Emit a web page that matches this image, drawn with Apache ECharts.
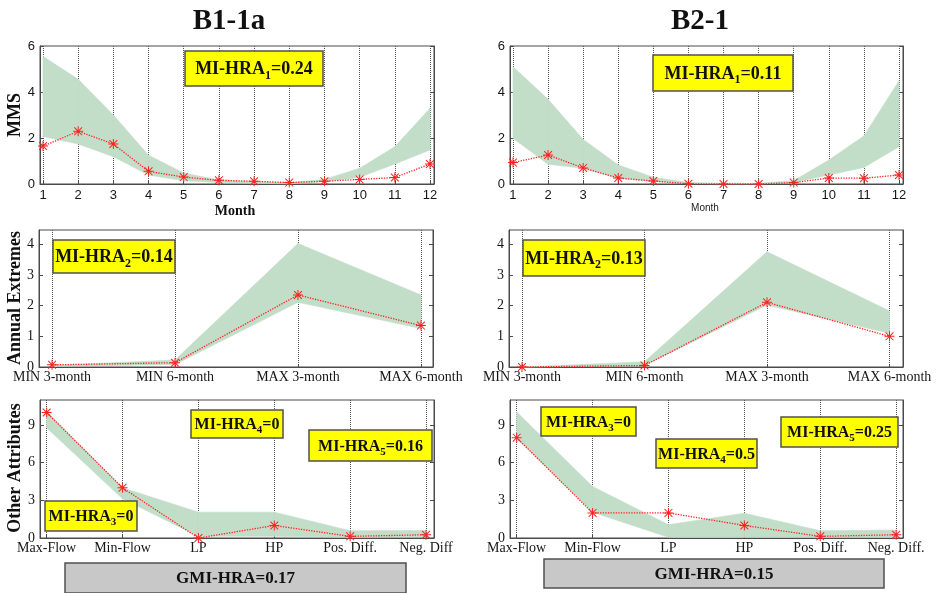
<!DOCTYPE html>
<html><head><meta charset="utf-8">
<script src="https://cdn.jsdelivr.net/npm/echarts@6/dist/echarts.min.js"></script>
<style>html,body{margin:0;padding:0;background:#fff}#c{width:937px;height:593px}</style>
</head><body><div id="c"></div>
<script>
// ---------------- DATA ----------------
const siteNames = ['B1-1a', 'B2-1'];
const monthLabels = ['1','2','3','4','5','6','7','8','9','10','11','12'];
const extremesLabels = ['MIN 3-month','MIN 6-month','MAX 3-month','MAX 6-month'];
const otherLabelsB11a = ['Max-Flow','Min-Flow','LP','HP','Pos. Diff.','Neg. Diff'];
const otherLabelsB21 = ['Max-Flow','Min-Flow','LP','HP','Pos. Diff.','Neg. Diff.'];
const mmsTicks = [0, 2, 4, 6];
const extremesTicks = [0, 1, 2, 3, 4];
const otherTicks = [0, 3, 6, 9];

// B1-1a
const mmsUpperB11a = [5.55, 4.55, 3.0, 1.25, 0.48, 0.17, 0.10, 0.06, 0.20, 0.68, 1.62, 3.29];
const mmsLowerB11a = [2.06, 1.74, 1.19, 0.39, 0.14, 0.06, 0.03, 0.01, 0.10, 0.29, 0.87, 1.48];
const mmsObsB11a   = [1.65, 2.29, 1.74, 0.55, 0.30, 0.16, 0.12, 0.06, 0.12, 0.20, 0.28, 0.87];
const extUpperB11a = [0.05, 0.23, 4.03, 2.35];
const extLowerB11a = [0.02, 0.08, 2.11, 1.26];
const extObsB11a   = [0.07, 0.14, 2.35, 1.35];
const othUpperB11a = [10.1, 4.0, 2.06, 2.06, 0.58, 0.60];
const othLowerB11a = [8.78, 3.12, 0.13, 0.13, 0.05, 0.10];
const othObsB11a   = [10.0, 4.0, 0.0, 1.0, 0.13, 0.26];
const miHraB11a = ['0.24', '0.14', '0', '0', '0.16'];
const gmiHraB11a = '0.17';

// B2-1
const mmsUpperB21 = [5.10, 3.68, 1.94, 0.83, 0.29, 0.06, 0.03, 0.03, 0.14, 1.04, 2.09, 4.49];
const mmsLowerB21 = [1.99, 0.86, 0.68, 0.25, 0.10, 0.03, 0.01, 0.01, 0.06, 0.39, 0.72, 1.62];
const mmsObsB21   = [0.93, 1.26, 0.70, 0.26, 0.13, 0.01, 0.0, 0.0, 0.06, 0.26, 0.25, 0.39];
const extUpperB21 = [0.0, 0.17, 3.76, 1.83];
const extLowerB21 = [0.0, 0.05, 2.02, 1.10];
const extObsB21   = [0.0, 0.05, 2.11, 1.0];
const othUpperB21 = [10.05, 4.1, 1.06, 1.98, 0.58, 0.63];
const othLowerB21 = [7.94, 2.06, 0.05, 0.05, 0.05, 0.05];
const othObsB21   = [8.0, 2.0, 2.0, 1.0, 0.13, 0.26];
const miHraB21 = ['0.11', '0.13', '0', '0.5', '0.25'];
const gmiHraB21 = '0.15';

// ---------------- STYLE / LAYOUT ----------------
const SERIF = '"Liberation Serif","Times New Roman",serif';
const SANS = '"Liberation Sans",Arial,sans-serif';
const FRAME = '#4a4a4a';
const BAND = '#c2dec8';
const RED = '#ff2020';
const STAR = 'path://M0 9H20V11H0Z M9 0H11V20H9Z M2.9 1.5L18.5 17.1L17.1 18.5L1.5 2.9Z M17.1 1.5L18.5 2.9L2.9 18.5L1.5 17.1Z';

const panels = [
  {grid:{left:40, top:46, width:394, height:138}, xMin:0.915, xMax:12.114, yMax:6, yTicks:mmsTicks, labels:monthLabels,
   upper:mmsUpperB11a, lower:mmsLowerB11a, obs:mmsObsB11a, font:SANS, size:13, xMargin:5},
  {grid:{left:510, top:46, width:393, height:138}, xMin:0.915, xMax:12.114, yMax:6, yTicks:mmsTicks, labels:monthLabels,
   upper:mmsUpperB21, lower:mmsLowerB21, obs:mmsObsB21, font:SANS, size:13, xMargin:5},
  {grid:{left:39, top:230, width:394, height:137}, xMin:0.894, xMax:4.098, yMax:4.47, yTicks:extremesTicks, labels:extremesLabels,
   upper:extUpperB11a, lower:extLowerB11a, obs:extObsB11a, font:SERIF, size:14, xMargin:3},
  {grid:{left:509, top:230, width:394, height:137}, xMin:0.894, xMax:4.11, yMax:4.47, yTicks:extremesTicks, labels:extremesLabels,
   upper:extUpperB21, lower:extLowerB21, obs:extObsB21, font:SERIF, size:14, xMargin:3},
  {grid:{left:40, top:400, width:394, height:138}, xMin:0.912, xMax:6.105, yMax:11, yTicks:otherTicks, labels:otherLabelsB11a,
   upper:othUpperB11a, lower:othLowerB11a, obs:othObsB11a, font:SERIF, size:14, xMargin:3},
  {grid:{left:510, top:400, width:393, height:138}, xMin:0.912, xMax:6.09, yMax:11, yTicks:otherTicks, labels:otherLabelsB21,
   upper:othUpperB21, lower:othLowerB21, obs:othObsB21, font:SERIF, size:14, xMargin:3}
];

const grid = [], xAxis = [], yAxis = [], series = [];
panels.forEach((p, i) => {
  grid.push(Object.assign({show:true, borderColor:FRAME, borderWidth:1, containLabel:false}, p.grid));
  const pos = p.labels.map((_, k) => k + 1);
  xAxis.push({
    gridIndex:i, type:'value', min:p.xMin, max:p.xMax,
    axisLine:{show:true, onZero:false, lineStyle:{color:FRAME}},
    axisTick:{show:true, inside:true, length:3, customValues:pos, lineStyle:{color:FRAME}},
    axisLabel:{customValues:pos, formatter:(v) => p.labels[Math.round(v) - 1], fontFamily:p.font, fontSize:p.size, color:'#161616', margin:p.xMargin},
    splitLine:{show:true, lineStyle:{type:'dotted', color:'#555', width:1}}
  });
  yAxis.push({
    gridIndex:i, type:'value', min:0, max:p.yMax, position:'left',
    axisLine:{show:true, lineStyle:{color:FRAME}},
    axisTick:{show:true, inside:true, length:4, customValues:p.yTicks, lineStyle:{color:FRAME}},
    axisLabel:{customValues:p.yTicks, fontFamily:p.font, fontSize:p.size, color:'#161616', margin:5},
    splitLine:{show:false}
  });
  yAxis.push({
    gridIndex:i, type:'value', min:0, max:p.yMax, position:'right',
    axisLine:{show:true, lineStyle:{color:FRAME}},
    axisTick:{show:true, inside:true, length:4, customValues:p.yTicks, lineStyle:{color:FRAME}},
    axisLabel:{show:false},
    splitLine:{show:false}
  });
  const bandData = p.upper.map((v, k) => [k + 1, p.lower[k], v]);
  series.push({
    type:'custom', xAxisIndex:i, yAxisIndex:2*i, silent:true, z:1,
    encode:{x:0, y:[1, 2]},
    data:bandData,
    renderItem:function (params, api) {
      const k = params.dataIndex;
      if (k >= bandData.length - 1) return null;
      const a = bandData[k], b = bandData[k + 1];
      const pts = [api.coord([a[0], a[1]]), api.coord([a[0], a[2]]), api.coord([b[0], b[2]]), api.coord([b[0], b[1]])];
      return {type:'polygon', shape:{points:pts}, style:{fill:BAND, stroke:BAND, lineWidth:0.6}};
    }
  });
  series.push({
    type:'line', xAxisIndex:i, yAxisIndex:2*i,
    data:p.obs.map((v, k) => [k + 1, v]), symbol:STAR, symbolSize:10, showAllSymbol:true,
    itemStyle:{color:RED}, lineStyle:{color:RED, type:'dotted', width:1.3}, z:3
  });
});

// ---------------- GRAPHIC TEXT ----------------
function txt(x, y, text, font, fill, rot) {
  return {type:'text', x:x, y:y, rotation:rot || 0, z:100,
    style:{text:text, font:font, fill:fill || '#111', align:'center', verticalAlign:'middle'}};
}
function miBox(x, y, w, h, sub, val, fs, fill) {
  const rich = {
    a:{fontFamily:SERIF, fontWeight:'bold', fontSize:fs, fill:'#111', lineHeight:fs + 6, verticalAlign:'middle'},
    s:{fontFamily:SERIF, fontWeight:'bold', fontSize:Math.round(fs * 0.68), fill:'#111', lineHeight:Math.round(fs * 0.6), verticalAlign:'bottom'}
  };
  const text = sub === null ? '{a|' + val + '}' : '{a|MI-HRA}{s|' + sub + '}{a|=' + val + '}';
  return {type:'group', z:100, children:[
    {type:'rect', z:100, shape:{x:x, y:y, width:w, height:h}, style:{fill:fill || '#ffff00', stroke:'#505050', lineWidth:1.5}},
    {type:'text', z:101, x:x + w / 2, y:y + h / 2 + 1, style:{text:text, rich:rich, align:'center', verticalAlign:'middle'}}
  ]};
}

const graphic = [
  txt(229, 22, siteNames[0], 'bold 29px ' + SERIF),
  txt(700, 22, siteNames[1], 'bold 29px ' + SERIF),
  txt(15, 115, 'MMS', 'bold 18px ' + SERIF, '#111', Math.PI / 2),
  txt(15, 298, 'Annual Extremes', 'bold 18px ' + SERIF, '#111', Math.PI / 2),
  txt(15, 468, 'Other Attributes', 'bold 18px ' + SERIF, '#111', Math.PI / 2),
  txt(235, 211, 'Month', 'bold 14px ' + SERIF),
  txt(705, 208, 'Month', '10px ' + SANS, '#222'),
  miBox(185, 51, 138, 35, '1', miHraB11a[0], 18),
  miBox(653, 55, 140, 36, '1', miHraB21[0], 18),
  miBox(53, 240, 122, 33, '2', miHraB11a[1], 18),
  miBox(523, 240, 122, 36, '2', miHraB21[1], 18),
  miBox(45, 501, 92, 30, '3', miHraB11a[2], 16),
  miBox(191, 410, 92, 28, '4', miHraB11a[3], 16),
  miBox(309, 430, 123, 31, '5', miHraB11a[4], 16),
  miBox(541, 407, 95, 29, '3', miHraB21[2], 16),
  miBox(656, 439, 101, 29, '4', miHraB21[3], 16),
  miBox(781, 417, 117, 30, '5', miHraB21[4], 16),
  miBox(65, 563, 341, 30, null, 'GMI-HRA=' + gmiHraB11a, 17, '#c8c8c8'),
  miBox(544, 559, 340, 29, null, 'GMI-HRA=' + gmiHraB21, 17, '#c8c8c8')
];

const chart = echarts.init(document.getElementById('c'), null, {renderer:'canvas'});
chart.setOption({
  animation:false,
  backgroundColor:'#fff',
  grid:grid, xAxis:xAxis, yAxis:yAxis, series:series, graphic:graphic
});
</script>
</body></html>
